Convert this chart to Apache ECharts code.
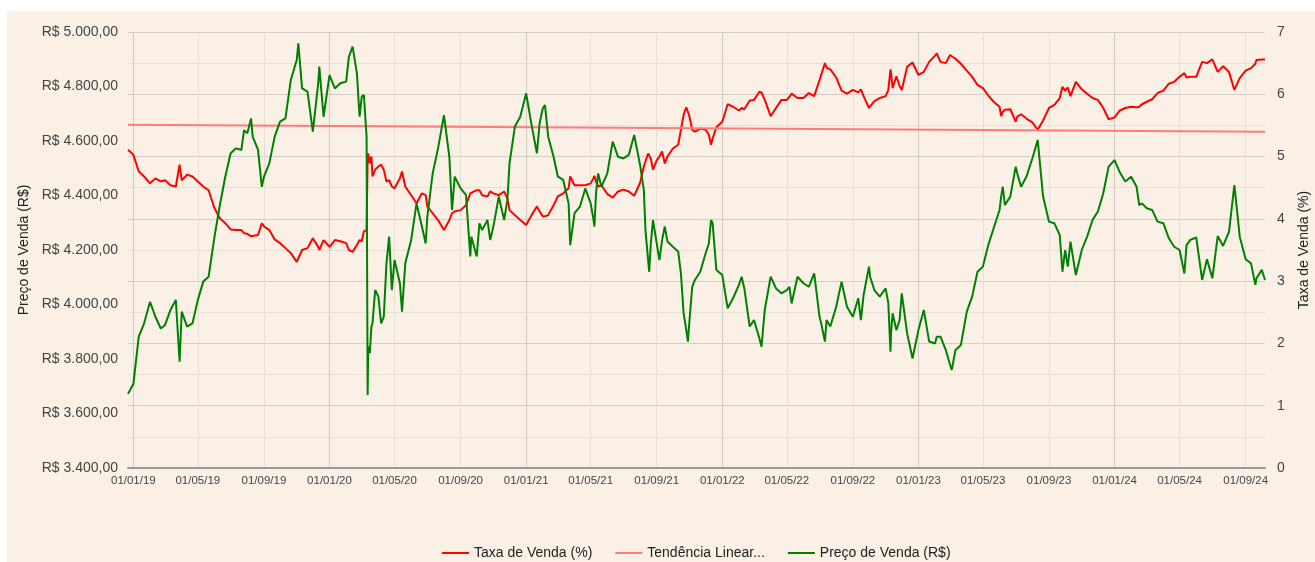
<!DOCTYPE html>
<html lang="pt-BR">

<head>
    <meta charset="UTF-8">
    <title>Taxa e Preço de Venda</title>
    <script src="https://cdnjs.cloudflare.com/ajax/libs/echarts/6.0.0/echarts.min.js"></script>
    <style>
        body { margin: 0; background: #ffffff; }
        #main { position: absolute; left: 7px; top: 11px; width: 1308px; height: 551px; }
    </style>
</head>

<body>
    <div id="main"></div>

    <script>
        // datas das amostras
        const datas = [
            '2018-12-22', '2019-01-01', '2019-01-11', '2019-01-21', '2019-02-01', '2019-02-11', '2019-02-21', '2019-03-01',
            '2019-03-11', '2019-03-21', '2019-03-28', '2019-04-01', '2019-04-11', '2019-04-21', '2019-05-01', '2019-05-11',
            '2019-05-21', '2019-06-01', '2019-06-11', '2019-06-21', '2019-07-01', '2019-07-11', '2019-07-21', '2019-07-26',
            '2019-08-01', '2019-08-08', '2019-08-11', '2019-08-21', '2019-08-28', '2019-09-01', '2019-09-11', '2019-09-21',
            '2019-10-01', '2019-10-11', '2019-10-21', '2019-11-01', '2019-11-04', '2019-11-11', '2019-11-21', '2019-12-01',
            '2019-12-11', '2019-12-13', '2019-12-21', '2020-01-01', '2020-01-11', '2020-01-21', '2020-02-01', '2020-02-06',
            '2020-02-13', '2020-02-21', '2020-02-26', '2020-03-01', '2020-03-05', '2020-03-10', '2020-03-12', '2020-03-13',
            '2020-03-16', '2020-03-19', '2020-03-21', '2020-03-26', '2020-04-01', '2020-04-06', '2020-04-11', '2020-04-16',
            '2020-04-21', '2020-04-26', '2020-05-01', '2020-05-11', '2020-05-15', '2020-05-21', '2020-06-01', '2020-06-11',
            '2020-06-21', '2020-06-28', '2020-07-01', '2020-07-11', '2020-07-21', '2020-08-01', '2020-08-04', '2020-08-11',
            '2020-08-16', '2020-08-21', '2020-09-01', '2020-09-11', '2020-09-19', '2020-09-21', '2020-10-01', '2020-10-06',
            '2020-10-11', '2020-10-21', '2020-10-26', '2020-11-01', '2020-11-11', '2020-11-21', '2020-11-27', '2020-12-01',
            '2020-12-11', '2020-12-21', '2021-01-01', '2021-01-11', '2021-01-21', '2021-01-26', '2021-02-01', '2021-02-05',
            '2021-02-11', '2021-02-21', '2021-03-01', '2021-03-11', '2021-03-21', '2021-03-24', '2021-04-01', '2021-04-11',
            '2021-04-21', '2021-05-01', '2021-05-06', '2021-05-08', '2021-05-11', '2021-05-15', '2021-05-21', '2021-06-01',
            '2021-06-11', '2021-06-21', '2021-07-01', '2021-07-11', '2021-07-21', '2021-08-01', '2021-08-08', '2021-08-11',
            '2021-08-16', '2021-08-18', '2021-08-21', '2021-08-25', '2021-09-01', '2021-09-06', '2021-09-11', '2021-09-16',
            '2021-09-21', '2021-10-01', '2021-10-11', '2021-10-16', '2021-10-21', '2021-10-26', '2021-10-29', '2021-11-01',
            '2021-11-06', '2021-11-11', '2021-11-21', '2021-12-01', '2021-12-07', '2021-12-11', '2021-12-14', '2021-12-21',
            '2022-01-01', '2022-01-11', '2022-01-21', '2022-02-01', '2022-02-06', '2022-02-11', '2022-02-21', '2022-03-01',
            '2022-03-11', '2022-03-15', '2022-03-21', '2022-04-01', '2022-04-11', '2022-04-21', '2022-05-01', '2022-05-06',
            '2022-05-10', '2022-05-21', '2022-06-01', '2022-06-11', '2022-06-21', '2022-07-01', '2022-07-04', '2022-07-11',
            '2022-07-14', '2022-07-21', '2022-08-01', '2022-08-11', '2022-08-21', '2022-09-01', '2022-09-11', '2022-09-16',
            '2022-09-21', '2022-10-01', '2022-10-03', '2022-10-11', '2022-10-21', '2022-11-01', '2022-11-06', '2022-11-10',
            '2022-11-11', '2022-11-14', '2022-11-21', '2022-11-27', '2022-12-01', '2022-12-11', '2022-12-21', '2023-01-01',
            '2023-01-11', '2023-01-21', '2023-02-01', '2023-02-04', '2023-02-11', '2023-02-21', '2023-03-01', '2023-03-04',
            '2023-03-11', '2023-03-21', '2023-04-01', '2023-04-11', '2023-04-21', '2023-05-01', '2023-05-11', '2023-05-21',
            '2023-06-01', '2023-06-04', '2023-06-07', '2023-06-11', '2023-06-21', '2023-07-01', '2023-07-04', '2023-07-11',
            '2023-07-21', '2023-08-01', '2023-08-11', '2023-08-21', '2023-09-01', '2023-09-11', '2023-09-21', '2023-09-26',
            '2023-10-01', '2023-10-06', '2023-10-11', '2023-10-21', '2023-11-01', '2023-11-11', '2023-11-21', '2023-12-01',
            '2023-12-11', '2023-12-21', '2024-01-01', '2024-01-11', '2024-01-21', '2024-02-01', '2024-02-11', '2024-02-16',
            '2024-02-21', '2024-03-01', '2024-03-11', '2024-03-21', '2024-04-01', '2024-04-11', '2024-04-21', '2024-05-01',
            '2024-05-10', '2024-05-14', '2024-05-21', '2024-06-01', '2024-06-12', '2024-06-21', '2024-07-01', '2024-07-11',
            '2024-07-21', '2024-08-01', '2024-08-11', '2024-08-21', '2024-09-01', '2024-09-11', '2024-09-19', '2024-09-21',
            '2024-10-01', '2024-10-07'
        ];

        // Preço de Venda (R$)
        const preco = [
            3672, 3708, 3882, 3931, 4010, 3955, 3912, 3925,
            3980, 4017, 3790, 3974, 3919, 3931, 4017, 4084,
            4102, 4249, 4365, 4469, 4555, 4573, 4567, 4640,
            4628, 4683, 4616, 4567, 4432, 4469, 4518, 4616,
            4671, 4683, 4824, 4897, 4958, 4793, 4781, 4634,
            4812, 4873, 4689, 4842, 4793, 4812, 4818, 4909,
            4946, 4848, 4689, 4763, 4769, 4616, 3668, 3845,
            3821, 3919, 3931, 4053, 4029, 3931, 3955, 4151,
            4249, 4053, 4163, 4078, 3974, 4151, 4237, 4371,
            4286, 4224, 4322, 4481, 4573, 4695, 4702, 4542,
            4347, 4469, 4426, 4402, 4176, 4249, 4176, 4298,
            4273, 4310, 4237, 4286, 4396, 4310, 4383, 4518,
            4653, 4689, 4775, 4659, 4555, 4665, 4720, 4732,
            4616, 4542, 4469, 4457, 4371, 4218, 4335, 4359,
            4426, 4371, 4316, 4286, 4408, 4481, 4432, 4481,
            4598, 4542, 4536, 4549, 4622, 4512, 4420, 4273,
            4163, 4120, 4224, 4310, 4224, 4163, 4237, 4286,
            4231, 4212, 4194, 4114, 3968, 3906, 3864, 3943,
            4065, 4090, 4120, 4188, 4224, 4310, 4298, 4127,
            4108, 3986, 4023, 4072, 4102, 4059, 3919, 3943,
            3876, 3845, 3980, 4102, 4059, 4041, 4053, 4065,
            4004, 4102, 4078, 4065, 4114, 3955, 3931, 3864,
            3943, 3919, 3992, 4084, 3992, 3955, 4023, 3943,
            4035, 4139, 4102, 4053, 4029, 4059, 4004, 3827,
            3894, 3968, 3906, 3943, 4041, 3894, 3802, 3906,
            3980, 3864, 3857, 3882, 3882, 3833, 3778, 3760,
            3833, 3851, 3974, 4029, 4120, 4139, 4218, 4280,
            4347, 4396, 4432, 4365, 4396, 4506, 4481, 4432,
            4469, 4536, 4604, 4396, 4304, 4298, 4255, 4120,
            4200, 4139, 4231, 4108, 4200, 4249, 4310, 4341,
            4408, 4506, 4530, 4484, 4451, 4469, 4432, 4365,
            4371, 4353, 4347, 4304, 4298, 4243, 4212, 4200,
            4114, 4218, 4237, 4246, 4090, 4166, 4096, 4251,
            4215, 4267, 4438, 4249, 4166, 4151, 4072, 4096,
            4127, 4090
        ];

        // Taxa de Venda (%)
        const taxa = [
            5.11, 5.03, 4.76, 4.68, 4.57, 4.65, 4.60, 4.62,
            4.54, 4.52, 4.87, 4.62, 4.71, 4.68, 4.60, 4.52,
            4.46, 4.17, 4.01, 3.93, 3.83, 3.82, 3.82, 3.77,
            3.76, 3.72, 3.73, 3.74, 3.93, 3.88, 3.82, 3.67,
            3.61, 3.53, 3.45, 3.31, 3.34, 3.50, 3.53, 3.69,
            3.55, 3.50, 3.66, 3.55, 3.66, 3.64, 3.61, 3.50,
            3.47, 3.58, 3.66, 3.64, 3.80, 3.82, 5.00, 5.05,
            4.89, 5.00, 4.68, 4.79, 4.84, 4.87, 4.79, 4.60,
            4.62, 4.52, 4.49, 4.65, 4.76, 4.52, 4.38, 4.25,
            4.41, 4.38, 4.20, 4.09, 3.98, 3.82, 3.80, 3.98,
            4.09, 4.12, 4.14, 4.22, 4.41, 4.44, 4.46, 4.46,
            4.38, 4.36, 4.44, 4.41, 4.38, 4.44, 4.33, 4.14,
            4.06, 3.98, 3.90, 4.06, 4.20, 4.12, 4.04, 4.04,
            4.06, 4.22, 4.36, 4.41, 4.49, 4.68, 4.54, 4.54,
            4.54, 4.57, 4.65, 4.69, 4.60, 4.52, 4.54, 4.40,
            4.34, 4.44, 4.47, 4.44, 4.37, 4.58, 4.84, 4.92,
            5.05, 5.08, 4.97, 4.79, 4.94, 5.00, 5.08, 4.89,
            5.00, 5.13, 5.19, 5.43, 5.67, 5.79, 5.72, 5.64,
            5.43, 5.40, 5.45, 5.43, 5.35, 5.19, 5.29, 5.47,
            5.56, 5.84, 5.80, 5.74, 5.78, 5.76, 5.90, 5.91,
            6.04, 6.03, 5.91, 5.65, 5.78, 5.91, 5.91, 5.96,
            6.01, 5.94, 5.94, 6.02, 5.97, 6.23, 6.26, 6.50,
            6.43, 6.40, 6.27, 6.06, 6.01, 6.07, 6.03, 6.08,
            5.97, 5.78, 5.79, 5.89, 5.94, 5.97, 6.07, 6.40,
            6.34, 6.10, 6.29, 6.13, 6.07, 6.44, 6.51, 6.31,
            6.36, 6.52, 6.62, 6.66, 6.52, 6.50, 6.63, 6.63,
            6.57, 6.49, 6.38, 6.28, 6.15, 6.10, 5.98, 5.88,
            5.80, 5.65, 5.72, 5.75, 5.76, 5.56, 5.64, 5.68,
            5.61, 5.55, 5.43, 5.58, 5.78, 5.83, 5.94, 6.12,
            6.06, 6.11, 5.97, 6.20, 6.08, 6.01, 5.94, 5.91,
            5.78, 5.60, 5.63, 5.74, 5.78, 5.80, 5.79, 5.80,
            5.84, 5.88, 5.92, 6.02, 6.06, 6.17, 6.20, 6.28,
            6.34, 6.27, 6.28, 6.28, 6.52, 6.50, 6.56, 6.36,
            6.45, 6.36, 6.07, 6.26, 6.38, 6.42, 6.49, 6.55,
            6.56, 6.56
        ];

        // Tendência Linear (Taxa de Venda (%)) - extremos
        const tendenciaDatas = ['2018-12-22', '2024-10-07'];
        const tendencia = [5.51, 5.40];

        // rótulos do eixo X
        const rotulosX = [
            '2019-01-01', '2019-05-01', '2019-09-01', '2020-01-01', '2020-05-01', '2020-09-01',
            '2021-01-01', '2021-05-01', '2021-09-01', '2022-01-01', '2022-05-01', '2022-09-01',
            '2023-01-01', '2023-05-01', '2023-09-01', '2024-01-01', '2024-05-01', '2024-09-01'
        ];

        // um dia por categoria, do início ao fim da série
        const dias = [];
        const inicio = Date.UTC(2018, 11, 22);
        const fim = Date.UTC(2024, 9, 7);
        for (let t = inicio; t <= fim; t += 86400000) {
            dias.push(new Date(t).toISOString().slice(0, 10));
        }
        const marcas = new Set(rotulosX);

        function reais(v) {
            return 'R$ ' + String(v).replace(/\B(?=(\d{3})+(?!\d))/g, '.') + ',00';
        }

        const myChart = echarts.init(document.getElementById('main'));
        const option = {
            animation: false,
            backgroundColor: '#faf0e6',
            textStyle: { fontFamily: 'Liberation Sans, Arial, sans-serif' },
            grid: { left: 121, right: 50, top: 21, bottom: 94, outerBoundsMode: 'none' },
            legend: {
                left: 430,
                top: 530,
                icon: 'rect',
                itemWidth: 27,
                itemHeight: 2,
                itemGap: 23,
                textStyle: { fontSize: 14, color: '#222' },
                formatter: n => n.startsWith('Tendência') ? 'Tendência Linear...' : n,
                data: ['Taxa de Venda (%)', 'Tendência Linear (Taxa de Venda (%))', 'Preço de Venda (R$)']
            },
            xAxis: {
                type: 'category',
                data: dias,
                boundaryGap: false,
                axisLine: { lineStyle: { color: '#999', width: 2 } },
                axisTick: { show: false },
                axisLabel: {
                    interval: (i, v) => marcas.has(v),
                    formatter: v => v.slice(8, 10) + '/' + v.slice(5, 7) + '/' + v.slice(2, 4),
                    fontSize: 11.5,
                    color: '#444',
                    margin: 7
                },
                splitLine: {
                    show: true,
                    interval: (i, v) => marcas.has(v),
                    lineStyle: { color: ['#cfcac4', '#e6ded6', '#e6ded6'], width: 1 }
                }
            },
            yAxis: [
                {
                    type: 'value',
                    name: 'Preço de Venda (R$)',
                    nameLocation: 'middle',
                    nameRotate: 90,
                    nameGap: 96,
                    nameTextStyle: { fontSize: 14, color: '#222' },
                    min: 3400,
                    max: 5000,
                    interval: 200,
                    axisLine: { show: false },
                    axisTick: { show: false },
                    splitLine: { show: false },
                    axisLabel: { formatter: reais, fontSize: 14, color: '#444', margin: 10 }
                },
                {
                    type: 'value',
                    name: 'Taxa de Venda (%)',
                    nameLocation: 'middle',
                    nameRotate: 90,
                    nameGap: 32,
                    nameTextStyle: { fontSize: 14, color: '#222' },
                    min: 0,
                    max: 7,
                    interval: 1,
                    axisLine: { show: false },
                    axisTick: { show: false },
                    minorTick: { show: false, splitNumber: 2 },
                    splitLine: { show: true, lineStyle: { color: '#d3cdc7', width: 1 } },
                    minorSplitLine: { show: true, lineStyle: { color: '#e8e0d8', width: 1 } },
                    axisLabel: { fontSize: 14, color: '#444', margin: 12 }
                }
            ],
            series: [
                {
                    name: 'Taxa de Venda (%)',
                    type: 'line',
                    yAxisIndex: 1,
                    showSymbol: false,
                    color: '#ff0000',
                    lineStyle: { width: 2 },
                    data: datas.map((d, i) => [d, taxa[i]])
                },
                {
                    name: 'Tendência Linear (Taxa de Venda (%))',
                    type: 'line',
                    yAxisIndex: 1,
                    showSymbol: false,
                    color: '#ff7a7a',
                    lineStyle: { width: 2 },
                    data: tendenciaDatas.map((d, i) => [d, tendencia[i]])
                },
                {
                    name: 'Preço de Venda (R$)',
                    type: 'line',
                    yAxisIndex: 0,
                    showSymbol: false,
                    color: '#008000',
                    lineStyle: { width: 2 },
                    data: datas.map((d, i) => [d, preco[i]])
                }
            ]
        };
        myChart.setOption(option);
    </script>
</body>

</html>
